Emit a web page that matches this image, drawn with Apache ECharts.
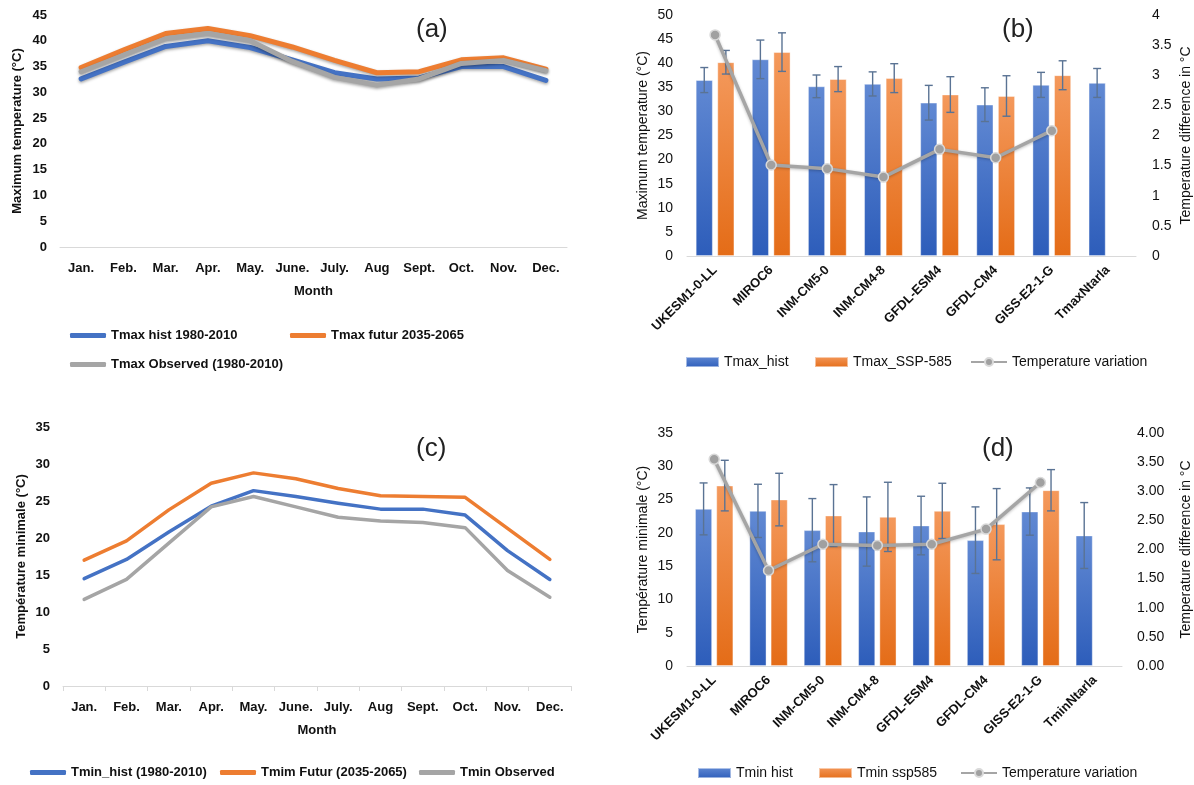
<!DOCTYPE html>
<html><head><meta charset="utf-8">
<script src="https://cdn.jsdelivr.net/npm/echarts@6/dist/echarts.min.js"></script>
<style>html,body{margin:0;padding:0;background:#fff}#c{width:1194px;height:785px}</style>
</head><body><div id="c"></div>
<script>
// ---------- DATA ----------
const months = ['Jan.','Feb.','Mar.','Apr.','May.','June.','July.','Aug','Sept.','Oct.','Nov.','Dec.'];
const tmaxHist  = [32.6,35.8,38.9,40.0,38.7,36.3,33.8,32.6,32.8,35.0,35.0,32.3];
const tmaxFutur = [34.8,38.2,41.4,42.4,41.0,38.8,36.2,33.8,34.0,36.3,36.7,34.5];
const tmaxObs   = [34.0,37.2,40.4,41.4,40.0,36.0,32.9,31.4,32.6,35.6,36.2,34.2];

const tminHist  = [14.5,17.1,20.8,24.3,26.4,25.6,24.7,23.9,23.9,23.1,18.3,14.4];
const tminFutur = [17.0,19.6,23.8,27.4,28.8,28.0,26.7,25.7,25.6,25.5,21.3,17.1];
const tminObs   = [11.7,14.4,19.3,24.2,25.6,24.2,22.8,22.3,22.1,21.4,15.6,12.0];

const modelsMax = ['UKESM1-0-LL','MIROC6','INM-CM5-0','INM-CM4-8','GFDL-ESM4','GFDL-CM4','GISS-E2-1-G','TmaxNtarla'];
const bTmaxHist    = [36.5,40.8,35.2,35.7,31.8,31.4,35.5,35.9];
const bTmaxHistErr = [2.6,4.0,2.35,2.5,3.6,3.5,2.6,3.0];
const bTmaxSsp     = [40.2,42.3,36.7,36.9,33.5,33.2,37.5,null];
const bTmaxSspErr  = [2.45,4.0,2.6,3.0,3.7,4.2,3.0,null];
const bTmaxVar     = [3.67,1.51,1.45,1.31,1.77,1.63,2.08,null];

const modelsMin = ['UKESM1-0-LL','MIROC6','INM-CM5-0','INM-CM4-8','GFDL-ESM4','GFDL-CM4','GISS-E2-1-G','TminNtarla'];
const dTminHist    = [23.6,23.3,20.4,20.2,21.1,18.9,23.2,19.6];
const dTminHistErr = [3.9,4.0,4.75,5.2,4.4,5.0,3.55,4.95];
const dTminSsp     = [27.1,25.0,22.6,22.4,23.3,21.3,26.4,null];
const dTminSspErr  = [3.8,3.95,4.65,5.2,4.15,5.35,3.1,null];
const dTminVar     = [3.55,1.64,2.09,2.07,2.09,2.35,3.15,null];

// ---------- HELPERS ----------
const FONT = 'Liberation Sans';
const BLUE = '#4472c4', ORANGE = '#ed7d31', GRAY = '#a5a5a5';
const blueGrad = new echarts.graphic.LinearGradient(0,0,0,1,[{offset:0,color:'#6189d3'},{offset:1,color:'#2d5dba'}]);
const orangeGrad = new echarts.graphic.LinearGradient(0,0,0,1,[{offset:0,color:'#f4995c'},{offset:1,color:'#e46c17'}]);

function errData(vals, errs){
  const out = [];
  vals.forEach((v,i)=>{ if(v!=null && errs[i]!=null) out.push([i, v-errs[i], v+errs[i]]); });
  return out;
}
function errRender(offset){
  return function(params, api){
    const i = api.value(0);
    const lo = api.coord([i, api.value(1)]);
    const hi = api.coord([i, api.value(2)]);
    const x = lo[0] + offset, c = 4;
    const st = {stroke:'#5a7394', lineWidth:1.4};
    return {type:'group', children:[
      {type:'line', shape:{x1:x,y1:lo[1],x2:x,y2:hi[1]}, style:st},
      {type:'line', shape:{x1:x-c,y1:hi[1],x2:x+c,y2:hi[1]}, style:st},
      {type:'line', shape:{x1:x-c,y1:lo[1],x2:x+c,y2:lo[1]}, style:st}
    ]};
  };
}
function lineSeries(name, data, color, xi, yi, shadow){
  return {type:'line', name, data, xAxisIndex:xi, yAxisIndex:yi, symbol:'none',
    lineStyle:{color, width:shadow?5:3.5, cap:'round', join:'round',
      shadowColor: shadow?'rgba(0,0,0,0.35)':'transparent', shadowBlur: shadow?3:0, shadowOffsetY: shadow?1.5:0},
    itemStyle:{color}, z:3};
}
function varSeries(name, data, xi, yi){
  return {type:'line', name, data, xAxisIndex:xi, yAxisIndex:yi, symbol:'circle', symbolSize:10,
    lineStyle:{color:GRAY, width:3.5, shadowColor:'rgba(0,0,0,0.25)', shadowBlur:3, shadowOffsetY:1},
    itemStyle:{color:'#a0a0a0', borderColor:'#d9d9d9', borderWidth:1.5}, z:6};
}
function legendItem(name, left, top, kind){
  const base = {data:[name], left, top, padding:0, itemGap:0,
    textStyle:{fontFamily:FONT, fontSize:13, fontWeight:'bold', color:'#111'}, selectedMode:false};
  if(kind==='line'){ base.itemWidth=36; base.itemHeight=5; base.icon='roundRect'; }
  else if(kind==='bar'){ base.itemWidth=33; base.itemHeight=10; base.icon='rect';
    base.textStyle = {fontFamily:FONT, fontSize:14, color:'#111'}; }
  else { base.itemWidth=36; base.itemHeight=10; base.textStyle = {fontFamily:FONT, fontSize:14, color:'#111'}; }
  return base;
}
const axisLineGray = {show:true, lineStyle:{color:'#d9d9d9', width:1}};
function monthAxis(gi, ticks){
  return {type:'category', gridIndex:gi, data:months, boundaryGap:true,
    axisLine:axisLineGray, axisTick:{show:!!ticks, length:5, lineStyle:{color:'#d9d9d9'}, interval:0},
    axisLabel:{fontFamily:FONT, fontSize:13, fontWeight:'bold', color:'#111', margin:15, interval:0},
    name:'Month', nameLocation:'middle', nameGap:38,
    nameTextStyle:{fontFamily:FONT, fontSize:13, fontWeight:'bold', color:'#111'}};
}
function modelAxis(gi, data){
  return {type:'category', gridIndex:gi, data, boundaryGap:true,
    axisLine:axisLineGray, axisTick:{show:false},
    axisLabel:{fontFamily:FONT, fontSize:13, fontWeight:'bold', color:'#111', rotate:45, margin:12, interval:0}};
}
function valAxis(gi, max, interval, name, opts){
  opts = opts||{};
  return {type:'value', gridIndex:gi, min:0, max, interval, position:opts.pos||'left',
    splitLine:{show:false}, axisLine:{show:false}, axisTick:{show:false},
    axisLabel:{fontFamily:FONT, fontSize:opts.fs||13, fontWeight:opts.fw||'bold', color:'#111', margin:opts.margin||13,
      formatter: opts.fmt},
    name, nameLocation:'middle', nameGap:opts.gap||43,
    nameTextStyle:{fontFamily:FONT, fontSize:opts.nfs||13, fontWeight:opts.nfw||'bold', color:'#111'}};
}

const option = {
  animation:false,
  backgroundColor:'#fff',
  grid:[
    {left:60, top:15, width:507, height:232},
    {left:687, top:15, width:455, height:241},
    {left:63, top:427, width:508, height:259},
    {left:687, top:433, width:447, height:233}
  ],
  xAxis:[ monthAxis(0,false), modelAxis(1, modelsMax), monthAxis(2,true), modelAxis(3, modelsMin) ],
  yAxis:[
    valAxis(0, 45, 5, 'Maximum temperature (°C)', {gap:36}),
    valAxis(1, 50, 5, 'Maximum temperature (°C)', {fs:14, fw:'normal', nfs:14, nfw:'normal', gap:37, margin:14}),
    valAxis(1, 4, 0.5, 'Temperature difference in °C', {pos:'right', fs:14, fw:'normal', nfs:14, nfw:'normal', gap:43, margin:16}),
    valAxis(2, 35, 5, 'Température minimale (°C)', {gap:35}),
    valAxis(3, 35, 5, 'Température minimale (°C)', {fs:14, fw:'normal', nfs:14, nfw:'normal', gap:37, margin:14}),
    valAxis(3, 4, 0.5, 'Temperature difference in °C', {pos:'right', fs:14, fw:'normal', nfs:14, nfw:'normal', gap:57, margin:15,
      fmt: v => v.toFixed(2)})
  ],
  legend:[
    legendItem('Tmax hist 1980-2010', 70, 329, 'line'),
    legendItem('Tmax futur 2035-2065', 290, 329, 'line'),
    legendItem('Tmax Observed (1980-2010)', 70, 358, 'line'),
    legendItem('Tmax_hist', 685, 355, 'bar'),
    legendItem('Tmax_SSP-585', 814, 355, 'bar'),
    legendItem('Temperature variation', 970, 355, 'var'),
    legendItem('Tmin_hist (1980-2010)', 30, 766, 'line'),
    legendItem('Tmim Futur (2035-2065)', 220, 766, 'line'),
    legendItem('Tmin Observed', 419, 766, 'line'),
    legendItem('Tmin hist', 697, 766, 'bar'),
    legendItem('Tmin ssp585', 818, 766, 'bar'),
    legendItem('Temperature variation ', 960, 766, 'var')
  ],
  graphic:[
    {type:'text', left:416, top:17, style:{text:'(a)', font:'26px "Liberation Sans"', fill:'#222'}},
    {type:'text', left:1002, top:17, style:{text:'(b)', font:'26px "Liberation Sans"', fill:'#222'}},
    {type:'text', left:416, top:436, style:{text:'(c)', font:'26px "Liberation Sans"', fill:'#222'}},
    {type:'text', left:982, top:436, style:{text:'(d)', font:'26px "Liberation Sans"', fill:'#222'}}
  ],
  series:[
    // (a)
    lineSeries('Tmax hist 1980-2010', tmaxHist, BLUE, 0, 0, true),
    lineSeries('Tmax futur 2035-2065', tmaxFutur, ORANGE, 0, 0, true),
    lineSeries('Tmax Observed (1980-2010)', tmaxObs, GRAY, 0, 0, true),
    // (b)
    {type:'bar', name:'Tmax_hist', data:bTmaxHist, xAxisIndex:1, yAxisIndex:1, barWidth:17, barGap:'27%',
      itemStyle:{color:blueGrad, borderColor:'rgba(255,255,255,0.5)', borderWidth:0.8}},
    {type:'bar', name:'Tmax_SSP-585', data:bTmaxSsp, xAxisIndex:1, yAxisIndex:1, barWidth:17, barGap:'27%',
      itemStyle:{color:orangeGrad, borderColor:'rgba(255,255,255,0.5)', borderWidth:0.8}},
    {type:'custom', name:'errB1', data:errData(bTmaxHist,bTmaxHistErr), xAxisIndex:1, yAxisIndex:1,
      renderItem:errRender(-10.8), encode:{x:0,y:[1,2]}, z:4},
    {type:'custom', name:'errB2', data:errData(bTmaxSsp,bTmaxSspErr), xAxisIndex:1, yAxisIndex:1,
      renderItem:errRender(10.8), encode:{x:0,y:[1,2]}, z:4},
    varSeries('Temperature variation', bTmaxVar, 1, 2),
    // (c)
    lineSeries('Tmin_hist (1980-2010)', tminHist, BLUE, 2, 3, false),
    lineSeries('Tmim Futur (2035-2065)', tminFutur, ORANGE, 2, 3, false),
    lineSeries('Tmin Observed', tminObs, GRAY, 2, 3, false),
    // (d)
    {type:'bar', name:'Tmin hist', data:dTminHist, xAxisIndex:3, yAxisIndex:4, barWidth:17, barGap:'25%',
      itemStyle:{color:blueGrad, borderColor:'rgba(255,255,255,0.5)', borderWidth:0.8}},
    {type:'bar', name:'Tmin ssp585', data:dTminSsp, xAxisIndex:3, yAxisIndex:4, barWidth:17, barGap:'25%',
      itemStyle:{color:orangeGrad, borderColor:'rgba(255,255,255,0.5)', borderWidth:0.8}},
    {type:'custom', name:'errD1', data:errData(dTminHist,dTminHistErr), xAxisIndex:3, yAxisIndex:4,
      renderItem:errRender(-10.6), encode:{x:0,y:[1,2]}, z:4},
    {type:'custom', name:'errD2', data:errData(dTminSsp,dTminSspErr), xAxisIndex:3, yAxisIndex:4,
      renderItem:errRender(10.6), encode:{x:0,y:[1,2]}, z:4},
    varSeries('Temperature variation ', dTminVar, 3, 5)
  ]
};
const chart = echarts.init(document.getElementById('c'), null, {renderer:'canvas'});
chart.setOption(option);
</script></body></html>
